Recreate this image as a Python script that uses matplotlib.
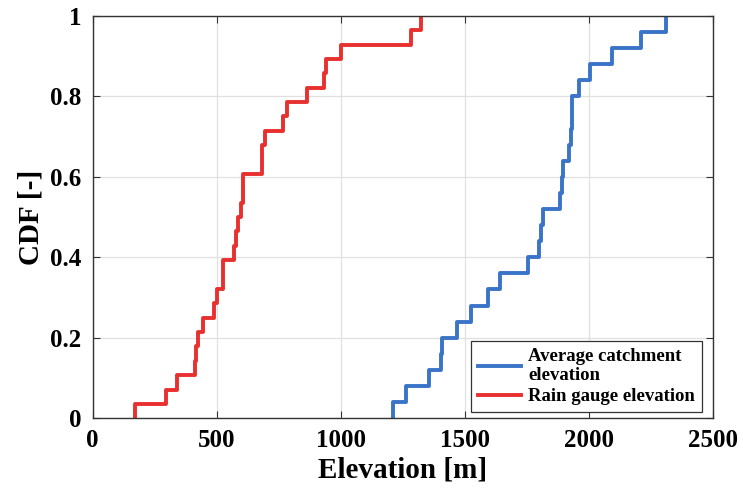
import numpy as np
import matplotlib
matplotlib.use("Agg")
import matplotlib.pyplot as plt

# elevations [m]
rain_gauge = [170, 296, 341, 412, 416, 426, 443, 489, 500, 524, 527, 570,
              578, 587, 597, 605, 605, 684, 684, 695, 766, 785, 863, 934,
              941, 1000, 1282, 1324]
catchment = [1212, 1262, 1356, 1403, 1410, 1467, 1524, 1593, 1642, 1756,
             1800, 1806, 1817, 1884, 1891, 1895, 1922, 1927, 1931, 1934,
             1961, 2005, 2095, 2211, 2312]

labels = ["Average catchment\nelevation", "Rain gauge elevation"]
colors = ["#3a74c8", "#e8302f"]

plt.rcParams['font.family'] = ['Liberation Serif', 'DejaVu Serif']
plt.rcParams['font.weight'] = 'bold'


def ecdf_steps(vals):
    x = np.sort(np.asarray(vals, dtype=float))
    xs = np.r_[x[0], x]
    ys = np.arange(len(x) + 1) / len(x)
    return xs, ys


fig = plt.figure(figsize=(7.43, 4.95), dpi=100)
ax = fig.add_axes([0.1248, 0.155, 0.8345, 0.813])

for vals, lab, col in zip([catchment, rain_gauge], labels, colors):
    xs, ys = ecdf_steps(vals)
    ax.step(xs, ys, where='post', color=col, lw=2.8, label=lab)

ax.set_xlim(0, 2500)
ax.set_ylim(0, 1)
ax.set_xticks([0, 500, 1000, 1500, 2000, 2500])
ax.set_yticks([0, 0.2, 0.4, 0.6, 0.8, 1])
ax.set_yticklabels(["0", "0.2", "0.4", "0.6", "0.8", "1"])
ax.grid(True, color="#e0e0e0", lw=0.9)
ax.set_axisbelow(True)
ax.tick_params(direction='in', top=True, right=True, length=5,
               labelsize=18, color="#333333", pad=8)
for s in ax.spines.values():
    s.set_color("#333333")
    s.set_linewidth(1.0)

ax.set_xlabel("Elevation [m]", fontsize=21, fontweight='bold', labelpad=3)
ax.set_ylabel("CDF [-]", fontsize=21, fontweight='bold', labelpad=4)

leg = ax.legend(loc='lower right', fontsize=13.5, handlelength=2.3,
                fancybox=False, edgecolor="#333333", framealpha=1,
                borderpad=0.35, labelspacing=0.2, handletextpad=0.4,
                borderaxespad=0, bbox_to_anchor=(0.982, 0.016))
leg.get_frame().set_linewidth(0.9)

fig.savefig("out.png", dpi=100)
